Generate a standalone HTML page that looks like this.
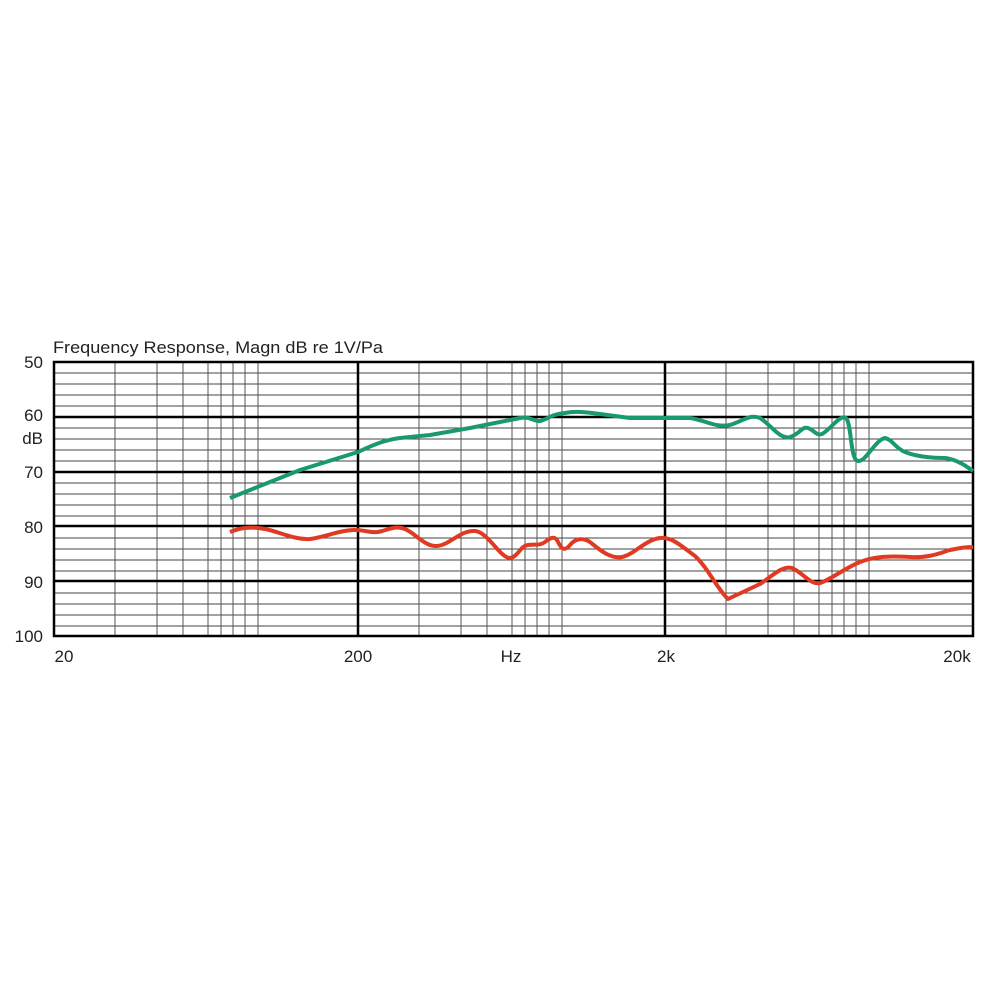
<!DOCTYPE html><html><head><style>body{margin:0;background:#fff}svg{display:block}text{font-family:"Liberation Sans",sans-serif;fill:#222}</style></head><body>
<svg width="1000" height="1000" viewBox="0 0 1000 1000" xmlns="http://www.w3.org/2000/svg">
<rect width="1000" height="1000" fill="#fff"/>
<path stroke="#444" stroke-width="1" fill="none" d="M54,373H973M54,384H973M54,395H973M54,406H973M54,428H973M54,439H973M54,450H973M54,461H973M54,483H973M54,494H973M54,505H973M54,516H973M54,538H973M54,549H973M54,560H973M54,571H973M54,593H973M54,604H973M54,615H973M54,626H973"/>
<path stroke="#555" stroke-width="1" fill="none" d="M115,362V636M157,362V636M183,362V636M208,362V636M221,362V636M233,362V636M245,362V636M258,362V636M419,362V636M461,362V636M487,362V636M512,362V636M525,362V636M537,362V636M549,362V636M562,362V636M726,362V636M768,362V636M794,362V636M819,362V636M832,362V636M844,362V636M856,362V636M869,362V636"/>
<path stroke="#000" stroke-width="2.5" fill="none" d="M54,417H973M54,472H973M54,526H973M54,581H973M358,362V636M665,362V636"/>
<rect x="54" y="362" width="919" height="274" fill="none" stroke="#000" stroke-width="2.5"/>
<path fill="none" stroke="#1a9a6a" stroke-width="4" stroke-linejoin="round" d="M230,498 L300,470 L358,452 C375,444 385,440 400,438 L430,435 L470,428 L520,418 C530,416 535,422 540,421 C548,419 552,414 565,413 C575,411 585,412 600,414 L630,418 L665,418 L690,418 C705,420 715,428 730,425 C745,420 750,414 760,418 C770,424 780,440 790,437 C800,434 802,426 808,428 C814,430 816,436 822,434 C830,430 840,414 846,418 C852,425 850,460 858,461 C866,462 875,440 885,438 C893,440 895,448 905,452 C915,456 930,458 945,458 C955,459 965,465 973,471"/>
<path fill="none" stroke="#e03a22" stroke-width="4" stroke-linejoin="round" d="M230,532 C240,528 250,526 265,529 C280,532 295,540 310,539 C325,537 340,530 355,530 C365,530 370,533 378,532 C388,530 395,525 405,529 C415,533 425,547 437,546 C450,545 460,530 475,531 C488,532 500,558 510,558 C518,557 520,546 528,545 C535,544 540,546 545,542 C550,538 555,535 558,542 C562,550 565,551 570,545 C575,539 582,537 590,542 C600,550 610,559 622,557 C635,554 645,540 660,538 C672,537 680,545 695,556 C708,568 718,590 728,599 L760,584 C770,578 782,565 792,568 C802,572 810,585 820,583 C830,580 845,568 860,562 C875,556 890,556 910,557 C930,558 940,553 950,550 C960,548 965,547 973,547"/>
<text x="53" y="353" font-size="17" textLength="330" lengthAdjust="spacingAndGlyphs">Frequency Response, Magn  dB re 1V/Pa</text>
<g font-size="17" text-anchor="end">
<text x="43" y="368">50</text><text x="43" y="421">60</text><text x="43" y="444">dB</text><text x="43" y="478">70</text><text x="43" y="533">80</text><text x="43" y="588">90</text><text x="43" y="642">100</text></g>
<g font-size="17" text-anchor="middle">
<text x="64" y="662">20</text><text x="358" y="662">200</text><text x="511" y="662">Hz</text><text x="666" y="662">2k</text><text x="957" y="662">20k</text></g>
</svg></body></html>
